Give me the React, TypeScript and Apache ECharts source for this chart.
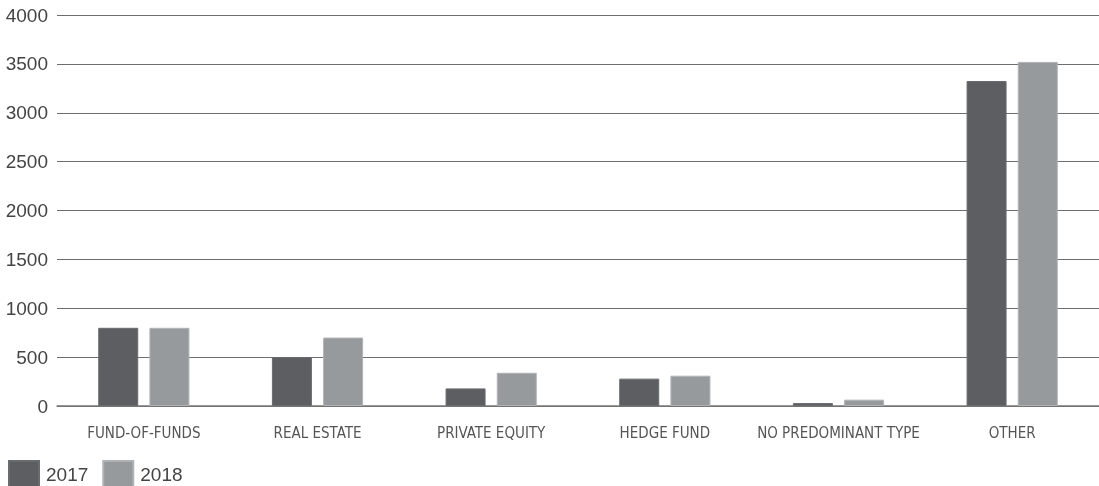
import React, { useEffect, useRef } from "react";
import * as echarts from "echarts";

const categories = ["FUND-OF-FUNDS", "REAL ESTATE", "PRIVATE EQUITY", "HEDGE FUND", "NO PREDOMINANT TYPE", "OTHER"];
const values2017 = [800, 500, 180, 280, 30, 3325];
const values2018 = [800, 700, 340, 310, 65, 3520];
const seriesNames = ["2017", "2018"];

export default function App() {
  const ref = useRef<HTMLDivElement>(null);
  useEffect(() => {
    document.body.style.margin = "0";
    document.body.style.overflow = "hidden";
    document.documentElement.style.overflow = "hidden";
    if (!ref.current) return;
    const chart = echarts.init(ref.current, null, { renderer: "svg" });
    chart.setOption({
      animation: false,
      textStyle: { fontFamily: "Liberation Sans, Arial, sans-serif" },
      grid: { left: 57, width: 1050, top: 15, height: 391, containLabel: false },
      legend: {
        left: 8,
        top: 460,
        itemWidth: 30,
        itemHeight: 26,
        itemGap: 14,
        icon: "rect",
        textStyle: { fontSize: 19, color: "#444", padding: [4, 0, 0, 2] },
        data: seriesNames,
        padding: 0,
      },
      xAxis: {
        type: "category",
        data: categories,
        axisTick: { show: false },
        axisLine: { lineStyle: { color: "#777", width: 1.5 } },
        axisLabel: {
          color: "#555",
          fontSize: 15,
          margin: 19,
          interval: 0,
          fontFamily: "Liberation Sans Narrow, DejaVu Sans Condensed, sans-serif",
        },
      },
      yAxis: {
        type: "value",
        min: 0,
        max: 4000,
        interval: 500,
        axisLine: { show: false },
        axisTick: { show: false },
        axisLabel: { color: "#444", fontSize: 19, margin: 9, formatter: (v: number) => String(v) },
        splitLine: { lineStyle: { color: "#6e6e6e", width: 1 } },
      },
      series: [
        {
          name: seriesNames[0],
          type: "bar",
          data: values2017,
          barWidth: 40,
          barGap: "28%",
          itemStyle: { color: "#5d5e62", borderColor: "#6a6b6f", borderWidth: 1 },
        },
        {
          name: seriesNames[1],
          type: "bar",
          data: values2018,
          barWidth: 40,
          itemStyle: { color: "#969a9c", borderColor: "#b0b3b5", borderWidth: 1 },
        },
      ],
    });
    return () => chart.dispose();
  }, []);
  return <div ref={ref} style={{ position: "fixed", left: 0, top: 0, width: 1099, height: 486 }} />;
}
